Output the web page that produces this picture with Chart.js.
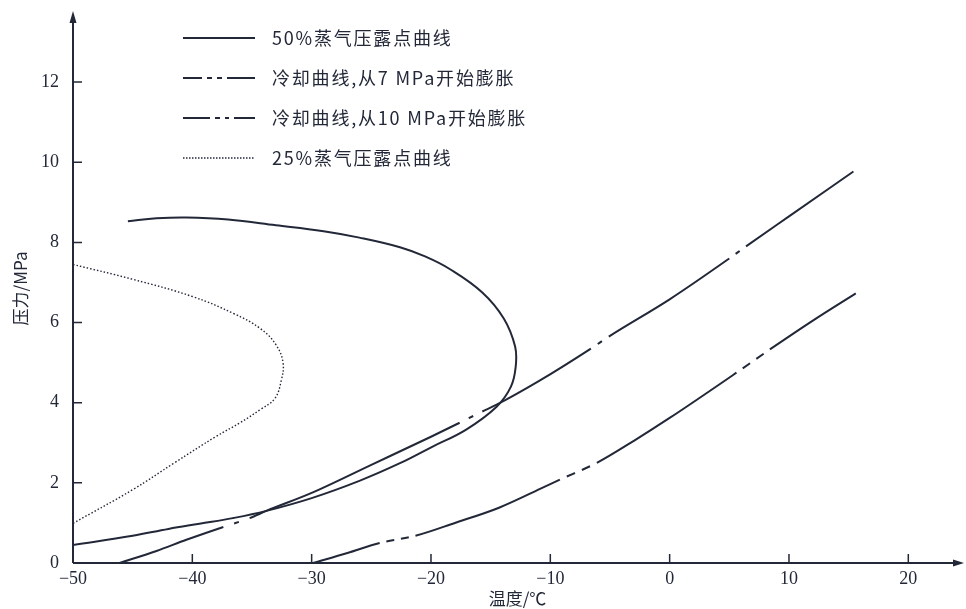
<!DOCTYPE html>
<html>
<head>
<meta charset="utf-8">
<script src="https://cdn.jsdelivr.net/npm/chart.js@4.4.1/dist/chart.umd.min.js"></script>
<style>
  html, body { margin: 0; padding: 0; background: #fff; }
</style>
</head>
<body>
<canvas id="chart" width="966" height="609"></canvas>
<script>
// Series labels (legend text)
const seriesLabels = [
    '50%蒸气压露点曲线',
    '冷却曲线,从7 MPa开始膨胀',
    '冷却曲线,从10 MPa开始膨胀',
    '25%蒸气压露点曲线'
];

// 50% dew point curve (a loop, listed in drawing order)
const dew50T = [-45.4, -43, -40.5, -37, -33, -29, -26, -22.6, -20.5, -18.4, -15.7, -13.9, -12.95, -12.9, -13.3, -14.5, -17.05, -19.9, -22.6, -26, -30, -33.8, -36.6, -39.4, -42, -45, -50];
const dew50P = [8.53, 8.6, 8.62, 8.57, 8.43, 8.28, 8.12, 7.88, 7.65, 7.33, 6.75, 6.1, 5.4, 4.9, 4.4, 3.9, 3.33, 2.9, 2.49, 2.05, 1.62, 1.3, 1.12, 0.98, 0.85, 0.68, 0.45];

// cooling curve, expansion from 7 MPa
const cool7T = [-46.1, -43, -40.5, -37.4, -35.2, -33.8, -30, -25, -20, -17.6, -15.7, -14.5, -10.9, -6.6, -5.1, 0, 5.0, 6.4, 10, 15.4];
const cool7P = [0, 0.3, 0.58, 0.9, 1.12, 1.3, 1.75, 2.45, 3.15, 3.5, 3.78, 3.95, 4.55, 5.35, 5.65, 6.58, 7.6, 7.9, 8.65, 9.77];
const cool7Breaks = [[-37.4, -35.2], [-17.6, -15.7], [-6.6, -5.1], [5.0, 6.4]];

// cooling curve, expansion from 10 MPa
const cool10T = [-29.9, -27, -24.3, -21.3, -18, -14.3, -10.5, -9.2, -6.1, -3, 0, 5.6, 8.4, 12, 15.6];
const cool10P = [0, 0.25, 0.5, 0.68, 1.0, 1.38, 1.9, 2.08, 2.5, 3.05, 3.62, 4.75, 5.33, 6.05, 6.73];
const cool10Breaks = [[-24.3, -21.3], [-9.2, -6.1], [5.6, 8.4]];

// 25% dew point curve
const dew25T = [-50, -45, -40, -36.5, -34.3, -33, -32.4, -32.55, -33.1, -34.3, -36, -38, -41.5, -45, -50];
const dew25P = [7.45, 7.08, 6.65, 6.22, 5.85, 5.45, 5.0, 4.55, 4.1, 3.83, 3.5, 3.16, 2.5, 1.83, 0.99];

const xTicks = [-50, -40, -30, -20, -10, 0, 10, 20];
const yTicks = [0, 2, 4, 6, 8, 10, 12];
const xRange = [-50, 24.5];
const yRange = [0, 13.7];

const ink = '#232838';
const numFont = { family: '"Liberation Serif", "DejaVu Serif", serif', size: 18 };
const cjkFont = '"Noto Sans CJK SC", "Noto Sans", sans-serif';

function toPoints(xs, ys) {
    return xs.map((x, i) => ({ x: x, y: ys[i] }));
}

function inBreak(xs, breaks, i) {
    const a = Math.min(xs[i], xs[i + 1]);
    const b = Math.max(xs[i], xs[i + 1]);
    return breaks.some(r => a >= r[0] - 0.01 && b <= r[1] + 0.01);
}

// one small dot in the middle of a break
function dotBreak(xs, breaks) {
    return ctx => {
        if (!inBreak(xs, breaks, ctx.p0DataIndex)) return undefined;
        const L = Math.hypot(ctx.p1.x - ctx.p0.x, ctx.p1.y - ctx.p0.y);
        const g = Math.max((L - 5) / 2, 2);
        return [0, g, 5, L + 20];
    };
}

// two short dashes inside a break
function dashBreak(xs, breaks) {
    return ctx => {
        if (!inBreak(xs, breaks, ctx.p0DataIndex)) return undefined;
        const L = Math.hypot(ctx.p1.x - ctx.p0.x, ctx.p1.y - ctx.p0.y);
        const d = L * 0.22;
        const g = (L - 2 * d) / 3;
        return [0, g, d, g, d, L + 20];
    };
}

// inward ticks, axis lines with arrows, and the legend block
const decor = {
    id: 'decor',
    afterDraw(chart) {
        const { ctx, scales: { x, y } } = chart;
        const x0 = x.getPixelForValue(xRange[0]);
        const y0 = y.getPixelForValue(yRange[0]);
        const xEnd = x.getPixelForValue(xRange[1]);
        const yEnd = y.getPixelForValue(yRange[1]);
        ctx.save();
        ctx.strokeStyle = ink;
        ctx.fillStyle = ink;
        ctx.lineWidth = 2;
        ctx.beginPath();
        ctx.moveTo(x0, y0);
        ctx.lineTo(xEnd - 4, y0);
        ctx.moveTo(x0, y0);
        ctx.lineTo(x0, yEnd + 6);
        ctx.stroke();

        // arrows
        ctx.beginPath();
        ctx.moveTo(xEnd + 2, y0);
        ctx.lineTo(xEnd - 9, y0 - 3.5);
        ctx.lineTo(xEnd - 9, y0 + 3.5);
        ctx.closePath();
        ctx.fill();
        ctx.beginPath();
        ctx.moveTo(x0, yEnd - 3);
        ctx.lineTo(x0 - 3.5, yEnd + 9);
        ctx.lineTo(x0 + 3.5, yEnd + 9);
        ctx.closePath();
        ctx.fill();

        // inward ticks
        ctx.lineWidth = 1.5;
        ctx.beginPath();
        xTicks.forEach(v => {
            if (v === xRange[0]) return;
            const px = x.getPixelForValue(v);
            ctx.moveTo(px, y0);
            ctx.lineTo(px, y0 - 9);
        });
        yTicks.forEach(v => {
            if (v === yRange[0]) return;
            const py = y.getPixelForValue(v);
            ctx.moveTo(x0, py);
            ctx.lineTo(x0 + 9, py);
        });
        ctx.stroke();

        // legend
        const rows = [38, 78, 118, 158];
        const patterns = [
            [],
            [19, 5, 5, 5, 5, 5, 40],
            [27, 5, 5, 5, 4, 5, 40],
            [1.5, 1.5]
        ];
        rows.forEach((ry, i) => {
            ctx.beginPath();
            ctx.setLineDash(patterns[i]);
            ctx.lineWidth = i === 3 ? 1.3 : 2;
            ctx.moveTo(183, ry);
            ctx.lineTo(255, ry);
            ctx.stroke();
            ctx.setLineDash([]);
            ctx.font = '18px ' + cjkFont;
            ctx.letterSpacing = '1.8px';
            ctx.textBaseline = 'middle';
            ctx.textAlign = 'left';
            ctx.fillText(seriesLabels[i], 272, ry);
        });
        ctx.restore();
    }
};

function fmtTick(v) {
    return v < 0 ? '\u2212' + Math.abs(v) : String(v);
}

const lineBase = {
    borderColor: ink,
    borderWidth: 2,
    pointRadius: 0,
    fill: false,
    showLine: true
};

const chart = new Chart(document.getElementById('chart').getContext('2d'), {
    type: 'scatter',
    data: {
        datasets: [
            Object.assign({}, lineBase, {
                label: seriesLabels[0],
                data: toPoints(dew50T, dew50P),
                tension: 0.4
            }),
            Object.assign({}, lineBase, {
                label: seriesLabels[1],
                data: toPoints(cool7T, cool7P),
                cubicInterpolationMode: 'monotone',
                segment: { borderDash: dotBreak(cool7T, cool7Breaks) }
            }),
            Object.assign({}, lineBase, {
                label: seriesLabels[2],
                data: toPoints(cool10T, cool10P),
                cubicInterpolationMode: 'monotone',
                segment: { borderDash: dashBreak(cool10T, cool10Breaks) }
            }),
            Object.assign({}, lineBase, {
                label: seriesLabels[3],
                data: toPoints(dew25T, dew25P),
                tension: 0.4,
                borderWidth: 1.4,
                borderDash: [1.5, 2]
            })
        ]
    },
    options: {
        responsive: false,
        animation: false,
        layout: { padding: { top: 14, right: 4, left: 0, bottom: 0 } },
        plugins: {
            legend: { display: false },
            tooltip: { enabled: false }
        },
        scales: {
            x: {
                type: 'linear',
                min: xRange[0],
                max: xRange[1],
                afterBuildTicks: s => { s.ticks = xTicks.map(v => ({ value: v })); },
                afterFit: s => { s.height = 46; },
                grid: { display: false, drawTicks: false },
                border: { display: false },
                ticks: { padding: 5, color: ink, font: numFont, maxRotation: 0, callback: fmtTick },
                title: {
                    display: true,
                    text: '温度/℃',
                    color: ink,
                    font: { family: cjkFont, size: 17 },
                    padding: { top: 0, bottom: 0 }
                }
            },
            y: {
                type: 'linear',
                min: yRange[0],
                max: yRange[1],
                afterBuildTicks: s => { s.ticks = yTicks.map(v => ({ value: v })); },
                afterFit: s => {
                    s.width = 73;
                    s.paddingTop = 0;
                    s.paddingBottom = 0;
                },
                grid: { display: false, drawTicks: false },
                border: { display: false },
                ticks: { padding: 14, color: ink, font: numFont, callback: fmtTick },
                title: {
                    display: true,
                    text: '压力/MPa',
                    color: ink,
                    font: { family: cjkFont, size: 17 },
                    padding: { top: 10, bottom: 0 }
                }
            }
        }
    },
    plugins: [decor]
});
</script>
</body>
</html>
